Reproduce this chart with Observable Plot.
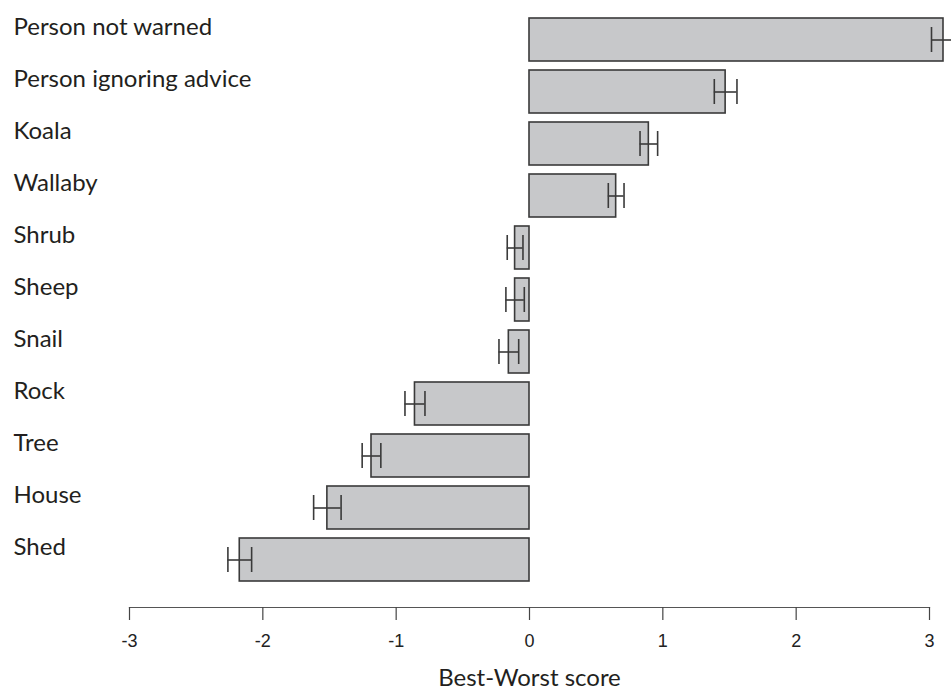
<!DOCTYPE html>
<html>
<head>
<meta charset="utf-8">
<script src="https://cdn.jsdelivr.net/npm/d3@7"></script>
<script src="https://cdn.jsdelivr.net/npm/@observablehq/plot@0.6"></script>
<style>
  html, body { margin: 0; padding: 0; background: #fff; overflow: hidden; }
  #chart svg { display: block; }
</style>
</head>
<body>
<div id="chart"></div>
<script>
const categories = ["Person not warned", "Person ignoring advice", "Koala", "Wallaby", "Shrub", "Sheep", "Snail", "Rock", "Tree", "House", "Shed"];
const scores = [3.105, 1.471, 0.895, 0.650, -0.108, -0.108, -0.155, -0.859, -1.185, -1.516, -2.173];
const errors = [0.090, 0.085, 0.066, 0.059, 0.059, 0.069, 0.074, 0.075, 0.070, 0.103, 0.089];
const tickValues = [-3, -2, -1, 0, 1, 2, 3];
const tickLabels = ["-3", "-2", "-1", "0", "1", "2", "3"];
const xLabel = "Best-Worst score";

const data = categories.map((name, i) => ({
  name,
  score: scores[i],
  lo: scores[i] - errors[i],
  hi: scores[i] + errors[i]
}));

const chart = Plot.plot({
  width: 951,
  height: 689,
  marginLeft: 129,
  marginRight: 22,
  marginTop: 11,
  marginBottom: 82,
  style: { background: "#fff", color: "#222" },
  x: { domain: [-3, 3] },
  y: { domain: categories, paddingInner: 0.18, paddingOuter: 0.09, insetBottom: 19, axis: null },
  marks: [
    Plot.barX(data, { x: "score", y: "name", fill: "#c7c8ca", stroke: "#3a3a3a", strokeWidth: 1.6 }),
    Plot.ruleY(data, { x1: "lo", x2: "hi", y: "name", stroke: "#3a3a3a", strokeWidth: 1.6 }),
    Plot.tickX(data, { x: "lo", y: "name", stroke: "#3a3a3a", strokeWidth: 1.6, insetTop: 9, insetBottom: 9 }),
    Plot.tickX(data, { x: "hi", y: "name", stroke: "#3a3a3a", strokeWidth: 1.6, insetTop: 9, insetBottom: 9 }),
    Plot.text(data, {
      y: "name", text: "name", frameAnchor: "left", textAnchor: "start",
      dx: -116, dy: -13, fontSize: 24, fontFamily: "Lato", fill: "#231f20"
    }),
    Plot.frame({ anchor: "bottom", stroke: "#555", strokeWidth: 1.2 }),
    Plot.axisX({
      ticks: tickValues,
      tickFormat: (d) => tickLabels[tickValues.indexOf(d)],
      tickSize: 13,
      tickPadding: 14,
      stroke: "#444",
      strokeWidth: 1.2,
      fontSize: 18,
      fontFamily: "Liberation Sans",
      fill: "#222",
      label: null
    }),
    Plot.text([xLabel], {
      text: (d) => d, frameAnchor: "bottom", dy: 78, fontSize: 24,
      fontFamily: "Lato", fill: "#231f20"
    })
  ]
});
document.getElementById("chart").appendChild(chart);
</script>
</body>
</html>
